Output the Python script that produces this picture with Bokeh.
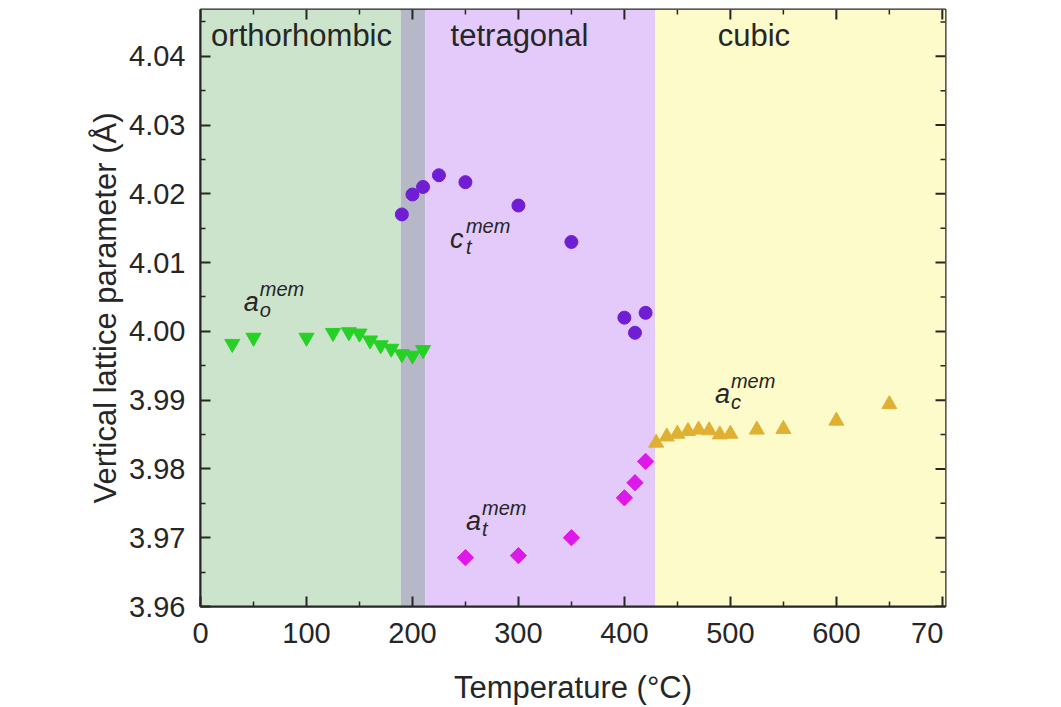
import numpy as np
from bokeh.plotting import figure
from bokeh.models import Range1d, BoxAnnotation, Label, FixedTicker, PrintfTickFormatter
from bokeh.embed import file_html
from bokeh.resources import INLINE

# ---------------- data ----------------
T_ortho = [30, 50, 100, 125, 140, 150, 160, 170, 180, 190, 200, 210]
a_ortho = [3.9982, 3.9991, 3.9991, 3.9998, 3.9999, 3.9997, 3.9987, 3.9980, 3.9975, 3.9967, 3.9965, 3.9973]

T_ct = [190, 200, 210, 225, 250, 300, 350, 400, 410, 420]
c_tet = [4.0170, 4.0199, 4.0210, 4.0227, 4.0217, 4.0183, 4.0130, 4.0020, 3.9998, 4.0027]

T_at = [250, 300, 350, 400, 410, 420]
a_tet = [3.9671, 3.9674, 3.9700, 3.9758, 3.9780, 3.9811]

T_cub = [430, 440, 450, 460, 470, 480, 490, 500, 525, 550, 600, 650]
a_cub = [3.9838, 3.9847, 3.9851, 3.9855, 3.9857, 3.9856, 3.9850, 3.9851, 3.9857, 3.9858, 3.9870, 3.9894]

phase_edges = [0, 189, 212, 429, 703]
phase_colors = ["#cce4cb", "#b6b8c8", "#e3cafa", "#fefbcb"]
phase_names = ["orthorhombic", "tetragonal", "cubic"]

x_ticks = [0, 100, 200, 300, 400, 500, 600, 700]
x_minor = [50, 150, 250, 350, 450, 550, 650]
y_ticks = [3.96, 3.97, 3.98, 3.99, 4.00, 4.01, 4.02, 4.03, 4.04]
y_minor = [3.965, 3.975, 3.985, 3.995, 4.005, 4.015, 4.025, 4.035, 4.045]

FONT = "Liberation Sans"
INK = "#262626"

X0, X1 = 0, 703
Y0, Y1 = 3.96, 4.0468
FW, FH = 745, 597

p = figure(x_range=Range1d(X0, X1), y_range=Range1d(Y0, Y1),
           frame_width=FW, frame_height=FH,
           min_border_left=200, min_border_top=9, min_border_bottom=98, min_border_right=14,
           output_backend="svg", toolbar_location=None,
           x_axis_label="Temperature (°C)", y_axis_label="Vertical lattice parameter (Å)")
p.background_fill_color = "white"
p.border_fill_color = "white"
p.grid.visible = False
p.outline_line_color = INK
p.outline_line_width = 2

# phase backgrounds
for i in range(4):
    p.add_layout(BoxAnnotation(left=phase_edges[i], right=phase_edges[i + 1],
                               fill_color=phase_colors[i], fill_alpha=1.0,
                               line_color=None, level="underlay"))

xt = FixedTicker(ticks=x_ticks, minor_ticks=x_minor)
yt = FixedTicker(ticks=y_ticks, minor_ticks=y_minor)

xa = p.xaxis[0]
xa.ticker = xt
xa.major_label_overrides = {700: "70\u2007"}
ya = p.yaxis[0]
ya.ticker = yt
ya.formatter = PrintfTickFormatter(format="%.2f")
for ax in (xa, ya):
    ax.axis_line_color = INK
    ax.axis_line_width = 2
    ax.major_tick_line_color = INK
    ax.minor_tick_line_color = INK
    ax.major_tick_line_width = 2
    ax.minor_tick_line_width = 1.5
    ax.major_tick_in = 10
    ax.major_tick_out = 0
    ax.minor_tick_in = 5
    ax.minor_tick_out = 0
    ax.major_label_text_font = FONT
    ax.major_label_text_font_size = "29px"
    ax.major_label_text_color = INK
    ax.axis_label_text_font = FONT
    ax.axis_label_text_font_size = "31px"
    ax.axis_label_text_font_style = "normal"
    ax.axis_label_text_color = INK
xa.major_label_standoff = 10
xa.axis_label_standoff = 18
ya.major_label_standoff = 15
ya.axis_label_standoff = 3

# mirrored inward ticks on the top and right frame edges
dx = (X1 - X0) / FW
dy = (Y1 - Y0) / FH
for ticks, ln, w in ((x_ticks, 10, 2), (x_minor, 5, 1.5)):
    p.segment(x0=ticks, y0=[Y1] * len(ticks), x1=ticks, y1=[Y1 - ln * dy] * len(ticks),
              line_color=INK, line_width=w)
for ticks, ln, w in ((y_ticks, 10, 2), (y_minor, 5, 1.5)):
    p.segment(x0=[X1] * len(ticks), y0=ticks, x1=[X1 - ln * dx] * len(ticks), y1=ticks,
              line_color=INK, line_width=w)

# markers
p.scatter(T_ortho, a_ortho, marker="inverted_triangle", size=15, fill_color="#26d126", line_color="#26d126")
p.scatter(T_ct, c_tet, marker="circle", size=13, fill_color="#6f1ed4", line_color="#6f1ed4")
p.scatter(T_at, a_tet, marker="square", angle=np.pi / 4, size=11.5, fill_color="#df18ea", line_color="#df18ea")
p.scatter(T_cub, a_cub, marker="triangle", size=15, fill_color="#e0b033", line_color="#e0b033")

LIFT = 10  # screen-pixel lift for labels

# phase names
for name, xpos in zip(phase_names, [10, 236, 488]):
    p.add_layout(Label(x=xpos, y=4.0415, y_offset=LIFT, text=name, text_font=FONT,
                       text_font_size="31px", text_color=INK, text_baseline="alphabetic"))

# series annotations (symbol, superscript, subscript)
def sym(x, y, base, sub):
    p.add_layout(Label(x=x, y=y, y_offset=LIFT, text=base, text_font=FONT, text_font_size="27px",
                       text_font_style="italic", text_color=INK, text_baseline="alphabetic"))
    p.add_layout(Label(x=x, y=y, x_offset=16, y_offset=LIFT + 13, text="mem", text_font=FONT,
                       text_font_size="20px", text_font_style="italic", text_color=INK,
                       text_baseline="alphabetic"))
    p.add_layout(Label(x=x, y=y, x_offset=16, y_offset=LIFT - 8, text=sub, text_font=FONT,
                       text_font_size="20px", text_font_style="italic", text_color=INK,
                       text_baseline="alphabetic"))

sym(40.8, 4.0028, "a", "o")
sym(235.4, 4.0120, "c", "t")
sym(250.5, 3.97095, "a", "t")
sym(485.4, 3.98938, "a", "c")

open("out.html", "w").write(file_html(p, INLINE))
